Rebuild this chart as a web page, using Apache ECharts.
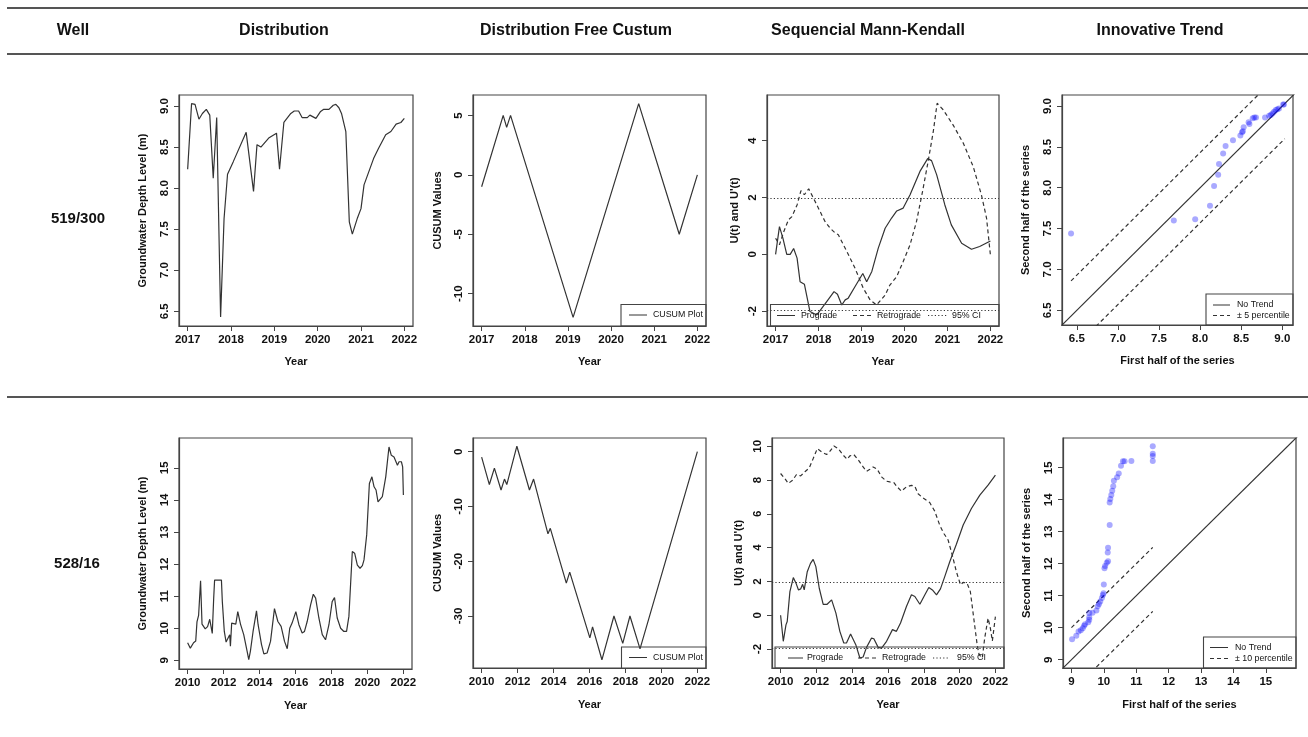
<!DOCTYPE html>
<html><head><meta charset="utf-8">
<script src="https://cdn.jsdelivr.net/npm/echarts@6/dist/echarts.min.js"></script>
<style>html,body{margin:0;padding:0;background:#fff}#c{width:1308px;height:737px}</style>
</head><body><div id="c"></div>
<script>
// ---------------- DATA ----------------
const columnTitles = ['Well', 'Distribution', 'Distribution Free Custum', 'Sequencial Mann-Kendall', 'Innovative Trend'];
const wellNames = ['519/300', '528/16'];

const yearTicks1 = [2017, 2018, 2019, 2020, 2021, 2022];
const yearTicks2 = [2010, 2012, 2014, 2016, 2018, 2020, 2022];
const depthTicks1 = [6.5, 7.0, 7.5, 8.0, 8.5, 9.0];
const depthTicks2 = [9, 10, 11, 12, 13, 14, 15];
const cusumTicks1 = [-10, -5, 0, 5];
const cusumTicks2 = [-30, -20, -10, 0];
const smkTicks1 = [-2, 0, 2, 4];
const smkTicks2 = [-2, 0, 2, 4, 6, 8, 10];
const itaTicks1 = [6.5, 7.0, 7.5, 8.0, 8.5, 9.0];
const itaTicks2 = [9, 10, 11, 12, 13, 14, 15];

// Well 519/300
const well1Level = [[2017.00,8.23],[2017.09,9.03],[2017.17,9.02],[2017.26,8.84],[2017.34,8.91],[2017.43,8.96],[2017.51,8.89],[2017.59,8.12],[2017.67,8.86],[2017.76,6.43],[2017.84,7.63],[2017.92,8.17],[2018.05,8.32],[2018.35,8.68],[2018.52,7.96],[2018.60,8.53],[2018.69,8.50],[2018.87,8.61],[2019.05,8.67],[2019.12,8.23],[2019.22,8.80],[2019.38,8.91],[2019.46,8.94],[2019.56,8.94],[2019.64,8.86],[2019.76,8.86],[2019.82,8.89],[2019.96,8.85],[2020.06,8.93],[2020.14,8.96],[2020.26,8.96],[2020.36,9.01],[2020.42,9.02],[2020.49,8.98],[2020.55,8.91],[2020.65,8.69],[2020.73,7.59],[2020.80,7.44],[2020.92,7.64],[2021.00,7.75],[2021.07,8.04],[2021.29,8.36],[2021.40,8.48],[2021.57,8.65],[2021.69,8.69],[2021.81,8.78],[2021.92,8.80],[2022.00,8.85]];
const well1Cusum = [[2017.00,-1],[2017.50,5],[2017.58,4],[2017.67,5],[2019.12,-12],[2020.64,6],[2021.58,-5],[2022.00,0]];
const well1Prograde = [[2017.00,0],[2017.09,0.98],[2017.17,0.57],[2017.26,0],[2017.34,0],[2017.42,0.21],[2017.50,-0.13],[2017.57,-0.96],[2017.67,-1.05],[2017.80,-2.01],[2017.96,-2.13],[2018.19,-1.66],[2018.36,-1.31],[2018.44,-1.40],[2018.54,-1.78],[2018.62,-1.60],[2018.69,-1.54],[2018.85,-1.13],[2019.03,-0.67],[2019.12,-0.96],[2019.24,-0.60],[2019.39,0.22],[2019.55,0.92],[2019.70,1.28],[2019.82,1.53],[2019.97,1.63],[2020.13,2.10],[2020.36,2.92],[2020.54,3.37],[2020.63,3.30],[2020.75,2.80],[2020.94,1.74],[2021.09,1.04],[2021.33,0.39],[2021.56,0.18],[2021.75,0.28],[2022.00,0.47]];
const well1Retrograde = [[2017.00,0.57],[2017.09,0.34],[2017.19,0.80],[2017.30,1.22],[2017.38,1.33],[2017.50,1.74],[2017.59,2.24],[2017.67,2.10],[2017.77,2.31],[2017.96,1.74],[2018.15,1.16],[2018.27,0.92],[2018.39,0.75],[2018.46,0.69],[2018.66,0.10],[2018.85,-0.49],[2019.04,-1.19],[2019.20,-1.60],[2019.35,-1.78],[2019.55,-1.43],[2019.66,-1.08],[2019.82,-0.78],[2019.97,-0.25],[2020.13,0.34],[2020.28,1.16],[2020.42,2.21],[2020.55,3.27],[2020.67,4.32],[2020.76,5.32],[2020.90,5.09],[2021.13,4.56],[2021.37,3.91],[2021.60,3.09],[2021.79,2.10],[2021.91,1.28],[2022.00,-0.02]];
const well1Ita = [[6.43,7.44],[7.68,7.60],[7.94,7.615],[8.12,7.78],[8.17,8.02],[8.22,8.16],[8.23,8.29],[8.28,8.42],[8.31,8.51],[8.40,8.58],[8.49,8.64],[8.51,8.68],[8.52,8.69],[8.53,8.74],[8.59,8.80],[8.60,8.78],[8.64,8.85],[8.66,8.86],[8.68,8.86],[8.79,8.86],[8.84,8.88],[8.86,8.89],[8.88,8.91],[8.90,8.93],[8.92,8.95],[8.94,8.96],[8.96,8.97],[9.01,9.02],[9.02,9.02]];
const well1NoTrend = [[6.0,6.0],[9.5,9.5]];
const well1Upper = [[6.43,6.86],[9.03,9.46]];
const well1Lower = [[6.43,6.00],[9.03,8.60]];

// Well 528/16
const well2Level = [[2010.00,9.55],[2010.15,9.38],[2010.33,9.55],[2010.45,9.60],[2010.52,10.20],[2010.61,10.40],[2010.67,10.37],[2010.72,11.48],[2010.80,10.13],[2010.98,9.98],[2011.11,10.05],[2011.23,10.28],[2011.30,10.26],[2011.37,9.84],[2011.45,10.94],[2011.50,11.50],[2011.88,11.50],[2011.93,10.83],[2012.04,9.90],[2012.14,9.57],[2012.25,9.52],[2012.34,9.80],[2012.38,9.44],[2012.45,10.16],[2012.56,10.13],[2012.68,10.13],[2012.79,10.52],[2012.94,10.13],[2013.12,9.80],[2013.31,9.28],[2013.40,9.02],[2013.49,9.28],[2013.64,9.90],[2013.83,10.54],[2013.92,10.11],[2014.01,10.06],[2014.11,9.49],[2014.24,9.20],[2014.42,9.23],[2014.61,9.59],[2014.83,10.61],[2015.02,10.21],[2015.20,10.06],[2015.31,10.00],[2015.39,9.59],[2015.54,9.36],[2015.68,10.00],[2015.81,10.16],[2015.91,10.16],[2016.02,10.52],[2016.19,10.11],[2016.37,9.85],[2016.50,9.90],[2016.65,10.21],[2016.84,10.73],[2016.99,11.06],[2017.12,10.94],[2017.30,10.32],[2017.49,9.80],[2017.67,9.64],[2017.86,10.11],[2018.04,10.83],[2018.17,10.96],[2018.32,10.32],[2018.51,10.00],[2018.69,9.90],[2018.84,9.90],[2018.97,10.37],[2019.16,12.39],[2019.29,12.34],[2019.44,11.97],[2019.59,11.87],[2019.72,11.95],[2019.81,12.13],[2019.96,12.91],[2020.11,14.51],[2020.25,14.72],[2020.37,14.41],[2020.48,14.31],[2020.59,13.94],[2020.70,13.89],[2020.83,14.10],[2020.92,14.15],[2021.02,14.72],[2021.20,15.65],[2021.33,15.39],[2021.48,15.34],[2021.67,15.08],[2021.76,15.19],[2021.89,15.19],[2021.96,15.03],[2022.00,14.15]];
const well2Cusum = [[2010.00,-1],[2010.43,-6],[2010.71,-3],[2011.08,-7],[2011.27,-5],[2011.40,-6],[2011.96,1],[2012.66,-7],[2012.89,-5],[2013.69,-15],[2013.82,-14],[2014.71,-24],[2014.90,-22],[2016.02,-34],[2016.17,-32],[2016.69,-38],[2017.36,-30],[2017.85,-35],[2018.25,-30],[2018.81,-36],[2022.00,0]];
const well2Prograde = [[2010.00,0],[2010.15,-1.54],[2010.30,-0.57],[2010.37,-0.37],[2010.52,1.40],[2010.71,2.23],[2010.86,1.90],[2011.00,1.50],[2011.12,1.56],[2011.23,1.83],[2011.32,1.50],[2011.49,2.58],[2011.67,3.07],[2011.82,3.31],[2011.97,2.88],[2012.16,1.60],[2012.38,0.65],[2012.60,0.65],[2012.85,0.91],[2013.09,0.13],[2013.31,-0.95],[2013.53,-1.64],[2013.68,-1.64],[2013.91,-1.11],[2014.02,-1.05],[2014.20,-1.74],[2014.43,-2.53],[2014.61,-2.47],[2014.80,-1.90],[2015.08,-1.35],[2015.21,-1.39],[2015.45,-1.90],[2015.64,-1.94],[2015.92,-1.54],[2016.25,-0.85],[2016.47,-0.95],[2016.70,-0.46],[2017.03,0.52],[2017.31,1.21],[2017.50,1.11],[2017.78,0.65],[2018.06,1.21],[2018.28,1.64],[2018.48,1.50],[2018.71,1.21],[2018.93,1.56],[2019.17,2.29],[2019.45,3.17],[2019.82,4.20],[2020.20,5.34],[2020.66,6.32],[2021.13,7.11],[2021.59,7.70],[2022.00,8.29]];
const well2Retrograde = [[2010.00,8.39],[2010.24,8.09],[2010.43,7.80],[2010.67,7.99],[2010.89,8.33],[2011.12,8.25],[2011.36,8.49],[2011.60,8.72],[2011.82,9.27],[2012.05,9.86],[2012.29,9.67],[2012.57,9.51],[2012.75,9.70],[2012.98,10.02],[2013.22,9.86],[2013.50,9.47],[2013.72,9.23],[2013.87,9.43],[2014.09,9.51],[2014.33,9.21],[2014.61,8.78],[2014.80,8.52],[2014.99,8.64],[2015.17,8.78],[2015.40,8.64],[2015.64,8.19],[2015.92,7.93],[2016.10,7.89],[2016.33,7.85],[2016.51,7.60],[2016.75,7.34],[2017.03,7.60],[2017.31,7.69],[2017.50,7.63],[2017.68,7.19],[2017.96,6.94],[2018.33,6.67],[2018.61,6.16],[2018.89,5.33],[2019.12,4.84],[2019.36,4.45],[2019.60,3.52],[2019.82,2.58],[2020.05,1.80],[2020.20,1.95],[2020.42,1.89],[2020.60,1.40],[2020.79,-0.17],[2020.98,-1.74],[2021.09,-2.33],[2021.27,-2.53],[2021.40,-1.36],[2021.59,-0.17],[2021.72,-0.77],[2021.83,-1.52],[2022.00,-0.08]];
const well2Ita = [[9.02,9.64],[9.15,9.75],[9.22,9.88],[9.29,9.92],[9.35,9.98],[9.39,10.06],[9.42,10.11],[9.52,10.17],[9.55,10.25],[9.55,10.33],[9.55,10.46],[9.65,10.47],[9.77,10.54],[9.81,10.67],[9.85,10.74],[9.89,10.82],[9.94,10.93],[9.97,11.02],[9.99,11.08],[10.00,11.35],[10.02,11.86],[10.04,11.93],[10.09,12.03],[10.13,12.08],[10.12,12.35],[10.13,12.50],[10.18,13.21],[10.18,13.91],[10.20,14.02],[10.23,14.15],[10.26,14.28],[10.29,14.42],[10.31,14.59],[10.41,14.70],[10.46,14.82],[10.53,15.06],[10.59,15.20],[10.64,15.20],[10.85,15.21],[11.51,15.21],[11.51,15.37],[11.51,15.44],[11.51,15.67]];
const well2NoTrend = [[8.0,8.0],[16.5,16.5]];
const well2Upper = [[9.00,10.00],[11.51,12.51]];
const well2Lower = [[9.00,8.00],[11.51,10.51]];

const ciBounds = [1.96, -1.96];

// ---------------- STYLE / LAYOUT ----------------
const FONT = '"Liberation Sans", Arial, sans-serif';
const INK = '#111';
const LINE = '#333';
const FRAME = '#444';
const DASH = [4, 3];
const DOT = [1.2, 2.2];
const LEG = 8.8;

const grids = [
  {left:179, top:95, width:234, height:231},
  {left:473, top:95, width:233, height:231},
  {left:767, top:95, width:232, height:231},
  {left:1062, top:95, width:231, height:230},
  {left:179, top:438, width:233, height:231},
  {left:473, top:438, width:233, height:230},
  {left:772, top:438, width:232, height:230},
  {left:1063, top:438, width:233, height:230}
].map(g => Object.assign({show:true, borderColor:FRAME, borderWidth:1.2, backgroundColor:'transparent', containLabel:false}, g));

const fInt = v => String(Math.round(v));
const f1 = v => v.toFixed(1);

function axisBase(gi, min, max, ticks, fmt, name, gap) {
  return {
    type:'value', gridIndex:gi, min:min, max:max, name:name,
    nameLocation:'middle', nameGap:gap,
    nameTextStyle:{fontFamily:FONT, fontWeight:'bold', fontSize:11, color:INK},
    axisLine:{show:true, onZero:false, lineStyle:{color:FRAME, width:1.2}},
    axisTick:{show:true, inside:false, length:5, customValues:ticks, lineStyle:{color:FRAME, width:1}},
    axisLabel:{customValues:ticks, formatter:fmt, margin:8, fontFamily:FONT, fontWeight:'bold', fontSize:11.5, color:INK},
    splitLine:{show:false}
  };
}
function xAx(gi, min, max, ticks, fmt, name, gap) { return axisBase(gi, min, max, ticks, fmt, name, gap); }
function yAx(gi, min, max, ticks, fmt, name, gap) {
  const a = axisBase(gi, min, max, ticks, fmt, name, gap);
  a.nameRotate = 90;
  a.axisLabel.rotate = 90;
  a.axisLabel.margin = 8;
  return a;
}

const xAxes = [
  xAx(0, 2016.8, 2022.2, yearTicks1, fInt, 'Year', 30),
  xAx(1, 2016.8, 2022.2, yearTicks1, fInt, 'Year', 30),
  xAx(2, 2016.8, 2022.2, yearTicks1, fInt, 'Year', 30),
  xAx(3, 6.32, 9.13, itaTicks1, f1, 'First half of the series', 30),
  xAx(4, 2009.52, 2022.48, yearTicks2, fInt, 'Year', 31),
  xAx(5, 2009.52, 2022.48, yearTicks2, fInt, 'Year', 31),
  xAx(6, 2009.52, 2022.48, yearTicks2, fInt, 'Year', 31),
  xAx(7, 8.74, 15.93, itaTicks2, fInt, 'First half of the series', 31)
];
const yAxes = [
  yAx(0, 6.32, 9.135, depthTicks1, f1, 'Groundwater Depth Level (m)', 31),
  yAx(1, -12.72, 6.72, cusumTicks1, fInt, 'CUSUM Values', 30),
  yAx(2, -2.52, 5.61, smkTicks1, fInt, "U(t) and U'(t)", 27),
  yAx(3, 6.32, 9.135, itaTicks1, f1, 'Second half of the series', 31),
  yAx(4, 8.73, 15.93, depthTicks2, fInt, 'Groundwater Depth Level (m)', 31),
  yAx(5, -39.5, 2.5, cusumTicks2, fInt, 'CUSUM Values', 30),
  yAx(6, -3.12, 10.49, smkTicks2, fInt, "U(t) and U'(t)", 28),
  yAx(7, 8.74, 15.93, itaTicks2, fInt, 'Second half of the series', 31)
];

function lineS(i, data, type, name) {
  return {type:'line', name:name, xAxisIndex:i, yAxisIndex:i, data:data, symbol:'none', showSymbol:false,
    silent:true, clip:true, lineStyle:{color:LINE, width:1.2, type:type || 'solid'}, z:3};
}
function ciLines() {
  return {silent:true, symbol:['none','none'], label:{show:false},
    lineStyle:{type:DOT, color:LINE, width:1.1}, data:ciBounds.map(v => ({yAxis:v}))};
}
function scatterS(i, data) {
  return {type:'scatter', xAxisIndex:i, yAxisIndex:i, data:data, symbolSize:6, silent:true,
    itemStyle:{color:'rgba(0,0,255,0.42)'}, z:4};
}

const p3 = lineS(2, well1Prograde, 'solid', 'Prograde'); p3.markLine = ciLines();
const p7 = lineS(6, well2Prograde, 'solid', 'Prograde'); p7.markLine = ciLines();

const series = [
  lineS(0, well1Level),
  lineS(1, well1Cusum),
  p3, lineS(2, well1Retrograde, DASH, 'Retrograde'),
  lineS(3, well1NoTrend), lineS(3, well1Upper, DASH), lineS(3, well1Lower, DASH), scatterS(3, well1Ita),
  lineS(4, well2Level),
  lineS(5, well2Cusum),
  p7, lineS(6, well2Retrograde, DASH, 'Retrograde'),
  lineS(7, well2NoTrend), lineS(7, well2Upper, DASH), lineS(7, well2Lower, DASH), scatterS(7, well2Ita)
];

// ---------------- GRAPHIC (table lines, headings, legends) ----------------
function txt(text, x, y, size, weight, align) {
  return {type:'text', silent:true, z:10, style:{text:text, x:x, y:y, fill:INK,
    font:(weight||'normal') + ' ' + size + 'px ' + FONT,
    align:align||'center', textAlign:align||'center', verticalAlign:'middle', textVerticalAlign:'middle'}};
}
function hline(x1, x2, y, w, color, dash) {
  return {type:'line', silent:true, z:10, shape:{x1:x1, y1:y, x2:x2, y2:y},
    style:{stroke:color||LINE, lineWidth:w||1, lineDash:dash||null}};
}
function box(x, y, w, h) {
  return {type:'rect', silent:true, z:10, shape:{x:x, y:y, width:w, height:h},
    style:{fill:'none', stroke:FRAME, lineWidth:1.1}};
}

const headerX = [73, 284, 576, 868, 1160];
const graphic = [
  hline(7, 1308, 8, 2, '#555'),
  hline(7, 1308, 54, 2, '#555'),
  hline(7, 1308, 397, 2, '#555')
];
columnTitles.forEach((t, k) => graphic.push(txt(t, headerX[k], 31, 16, 'bold')));
graphic.push(txt(wellNames[0], 78, 219, 15, 'bold'));
graphic.push(txt(wellNames[1], 77, 564, 15, 'bold'));

// CUSUM legends
graphic.push(box(621, 304.5, 85, 21.5), hline(629, 647, 315, 1), txt('CUSUM Plot', 653, 315, LEG, 'normal', 'left'));
graphic.push(box(621.5, 647, 84.5, 21.5), hline(629, 647, 657.5, 1), txt('CUSUM Plot', 653, 657.5, LEG, 'normal', 'left'));
// SMK legends
graphic.push(box(770.5, 304.5, 228.5, 21.5),
  hline(777, 795, 315.5, 1), txt('Prograde', 801, 315.5, LEG, 'normal', 'left'),
  hline(853, 872, 315.5, 1, LINE, DASH), txt('Retrograde', 877, 315.5, LEG, 'normal', 'left'),
  hline(928, 947, 315.5, 1, LINE, DOT), txt('95% CI', 952, 315.5, LEG, 'normal', 'left'));
graphic.push(box(775, 647, 229, 21),
  hline(788, 803, 658, 1), txt('Prograde', 807, 658, LEG, 'normal', 'left'),
  hline(858, 877, 658, 1, LINE, DASH), txt('Retrograde', 882, 658, LEG, 'normal', 'left'),
  hline(933, 950, 658, 1, LINE, DOT), txt('95% CI', 957, 658, LEG, 'normal', 'left'));
// ITA legends
graphic.push(box(1206, 294, 87, 31),
  hline(1213, 1230, 305, 1), txt('No Trend', 1237, 305, LEG, 'normal', 'left'),
  hline(1213, 1230, 315.5, 1, LINE, DASH), txt('\u00b1 5 percentile', 1237, 315.5, LEG, 'normal', 'left'));
graphic.push(box(1203.5, 637, 92.5, 31),
  hline(1210, 1228, 647.5, 1), txt('No Trend', 1235, 647.5, LEG, 'normal', 'left'),
  hline(1210, 1228, 658.5, 1, LINE, DASH), txt('\u00b1 10 percentile', 1235, 658.5, LEG, 'normal', 'left'));

const chart = echarts.init(document.getElementById('c'), null, {renderer:'canvas', width:1308, height:737});
chart.setOption({
  animation:false,
  backgroundColor:'#ffffff',
  textStyle:{fontFamily:FONT},
  grid:grids, xAxis:xAxes, yAxis:yAxes, series:series, graphic:graphic
});
</script>
</body></html>
